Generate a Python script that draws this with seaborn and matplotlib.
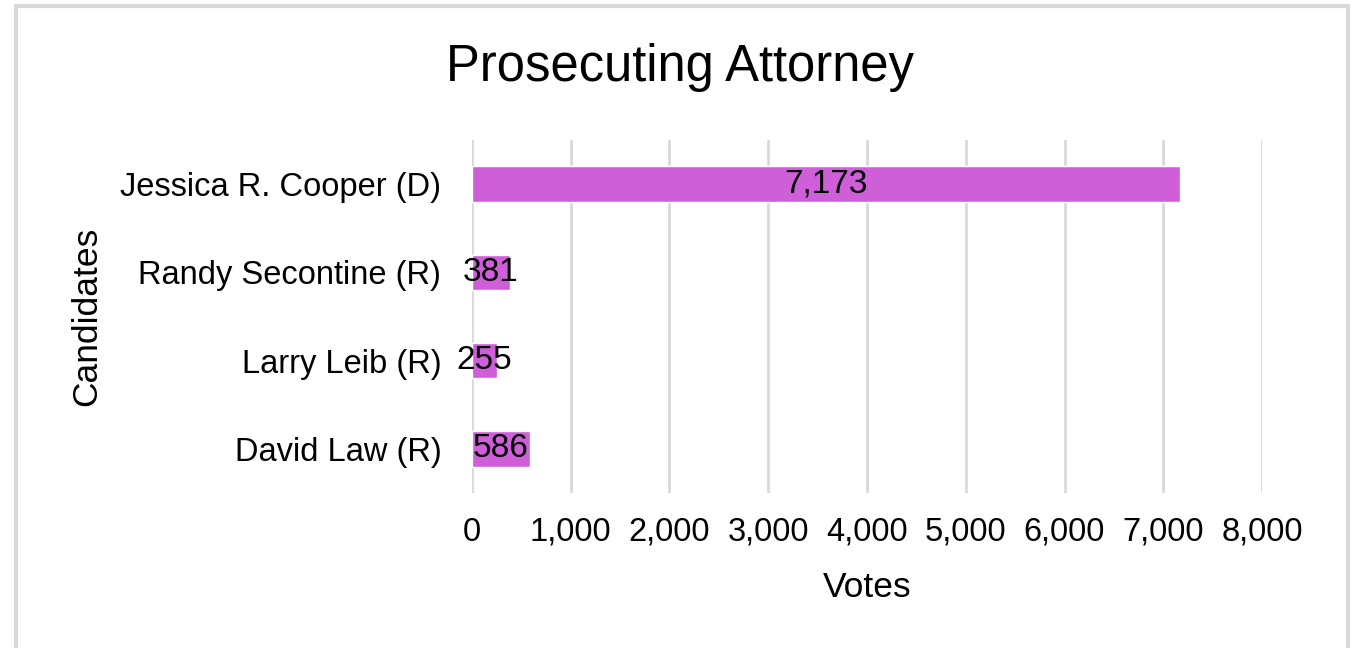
import matplotlib
matplotlib.use("Agg")
import matplotlib.pyplot as plt
import seaborn as sns
import pandas as pd
from matplotlib.patches import Rectangle
from matplotlib.ticker import FuncFormatter

# data
candidates = ["Jessica R. Cooper (D)", "Randy Secontine (R)", "Larry Leib (R)", "David Law (R)"]
votes = [7173, 381, 255, 586]
x_ticks = [0, 1000, 2000, 3000, 4000, 5000, 6000, 7000, 8000]

df = pd.DataFrame({"Candidates": candidates, "Votes": votes})

sns.set_theme(style="white")
plt.rcParams["font.family"] = ["Liberation Sans", "DejaVu Sans"]

fig = plt.figure(figsize=(13.6, 6.48), dpi=100)
ax = fig.add_axes([0.347, 0.239, 0.581, 0.545])

sns.barplot(data=df, x="Votes", y="Candidates", color="#CF5FD9", saturation=1,
            width=0.4, ax=ax, zorder=3)

ax.set_xlim(0, 8000)
ax.set_xticks(x_ticks)
ax.xaxis.set_major_formatter(FuncFormatter(lambda v, p: f"{int(v):,}"))
ax.grid(axis="x", color="#D9D9D9", linewidth=2, zorder=0)
ax.grid(axis="y", visible=False)
for s in ax.spines.values():
    s.set_visible(False)
ax.tick_params(axis="both", length=0, labelsize=23.5, colors="black")
ax.tick_params(axis="y", pad=22)
ax.tick_params(axis="x", pad=17)

for c in ax.containers:
    ax.bar_label(c, labels=[f"{v:,}" for v in votes], label_type="center",
                 fontsize=24, color="black")

ax.set_xlabel("Votes", fontsize=25.5, color="black")
ax.set_ylabel("Candidates", fontsize=25.5, color="black")
ax.xaxis.set_label_coords(0.5, -0.22)
ax.yaxis.set_label_coords(-0.466, 0.5)
fig.suptitle("Prosecuting Attorney", fontsize=36.5, y=1 - 68 / 648, va="center", color="black")

fig.patches.append(Rectangle((15.5 / 1360, -0.05), (1347.5 - 15.5) / 1360, 1 - 6.5 / 648 + 0.05,
                             transform=fig.transFigure, fill=False,
                             edgecolor="#D9D9D9", linewidth=3))

fig.savefig("out.png", dpi=100, facecolor="white")
